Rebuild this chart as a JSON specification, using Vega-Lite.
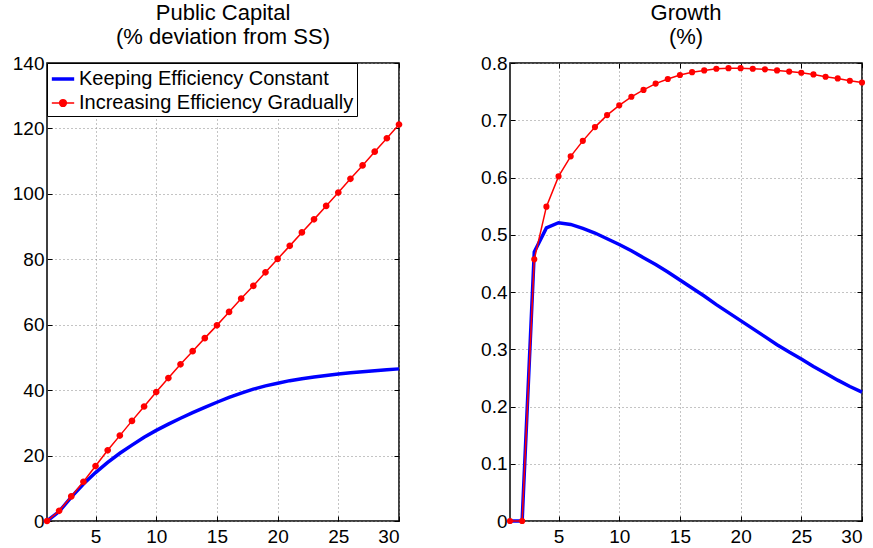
{
  "$schema": "https://vega.github.io/schema/vega-lite/v6.json",
  "padding": {"left": 11, "top": 1, "right": 0, "bottom": 0},
  "background": "white",
  "config": {
    "font": "Liberation Sans",
    "view": {"stroke": "black", "strokeWidth": 1.5},
    "axis": {
      "domain": false,
      "grid": true,
      "gridColor": "#888888",
      "gridDash": [1, 3],
      "gridWidth": 1,
      "tickColor": "black",
      "tickSize": -5,
      "tickWidth": 1,
      "labelFont": "Liberation Sans",
      "labelFontSize": 19,
      "labelColor": "black",
      "title": null
    },
    "axisX": {"labelPadding": 11},
    "axisY": {"labelPadding": 8},
    "title": {
      "font": "Liberation Sans",
      "fontSize": 22,
      "fontWeight": "normal",
      "color": "black",
      "anchor": "middle",
      "lineHeight": 24,
      "offset": 5
    }
  },
  "datasets": {
    "pubcap": [
      {"t": 1, "series": "Keeping Efficiency Constant", "v": 0},
      {"t": 2, "series": "Keeping Efficiency Constant", "v": 2.9},
      {"t": 3, "series": "Keeping Efficiency Constant", "v": 7.3},
      {"t": 4, "series": "Keeping Efficiency Constant", "v": 11.3},
      {"t": 5, "series": "Keeping Efficiency Constant", "v": 14.8},
      {"t": 6, "series": "Keeping Efficiency Constant", "v": 17.9},
      {"t": 7, "series": "Keeping Efficiency Constant", "v": 20.7},
      {"t": 8, "series": "Keeping Efficiency Constant", "v": 23.2},
      {"t": 9, "series": "Keeping Efficiency Constant", "v": 25.6},
      {"t": 10, "series": "Keeping Efficiency Constant", "v": 27.7},
      {"t": 11, "series": "Keeping Efficiency Constant", "v": 29.6},
      {"t": 12, "series": "Keeping Efficiency Constant", "v": 31.4},
      {"t": 13, "series": "Keeping Efficiency Constant", "v": 33.1},
      {"t": 14, "series": "Keeping Efficiency Constant", "v": 34.7},
      {"t": 15, "series": "Keeping Efficiency Constant", "v": 36.3},
      {"t": 16, "series": "Keeping Efficiency Constant", "v": 37.8},
      {"t": 17, "series": "Keeping Efficiency Constant", "v": 39.1},
      {"t": 18, "series": "Keeping Efficiency Constant", "v": 40.3},
      {"t": 19, "series": "Keeping Efficiency Constant", "v": 41.3},
      {"t": 20, "series": "Keeping Efficiency Constant", "v": 42.1},
      {"t": 21, "series": "Keeping Efficiency Constant", "v": 42.9},
      {"t": 22, "series": "Keeping Efficiency Constant", "v": 43.5},
      {"t": 23, "series": "Keeping Efficiency Constant", "v": 44.0},
      {"t": 24, "series": "Keeping Efficiency Constant", "v": 44.5},
      {"t": 25, "series": "Keeping Efficiency Constant", "v": 44.9},
      {"t": 26, "series": "Keeping Efficiency Constant", "v": 45.3},
      {"t": 27, "series": "Keeping Efficiency Constant", "v": 45.6},
      {"t": 28, "series": "Keeping Efficiency Constant", "v": 45.9},
      {"t": 29, "series": "Keeping Efficiency Constant", "v": 46.2},
      {"t": 30, "series": "Keeping Efficiency Constant", "v": 46.5},
      {"t": 1, "series": "Increasing Efficiency Gradually", "v": 0},
      {"t": 2, "series": "Increasing Efficiency Gradually", "v": 3.1},
      {"t": 3, "series": "Increasing Efficiency Gradually", "v": 7.5},
      {"t": 4, "series": "Increasing Efficiency Gradually", "v": 12.0},
      {"t": 5, "series": "Increasing Efficiency Gradually", "v": 16.8},
      {"t": 6, "series": "Increasing Efficiency Gradually", "v": 21.6},
      {"t": 7, "series": "Increasing Efficiency Gradually", "v": 26.1},
      {"t": 8, "series": "Increasing Efficiency Gradually", "v": 30.6},
      {"t": 9, "series": "Increasing Efficiency Gradually", "v": 35.0},
      {"t": 10, "series": "Increasing Efficiency Gradually", "v": 39.4},
      {"t": 11, "series": "Increasing Efficiency Gradually", "v": 43.7},
      {"t": 12, "series": "Increasing Efficiency Gradually", "v": 47.9},
      {"t": 13, "series": "Increasing Efficiency Gradually", "v": 51.9},
      {"t": 14, "series": "Increasing Efficiency Gradually", "v": 55.9},
      {"t": 15, "series": "Increasing Efficiency Gradually", "v": 59.8},
      {"t": 16, "series": "Increasing Efficiency Gradually", "v": 63.9},
      {"t": 17, "series": "Increasing Efficiency Gradually", "v": 68.0},
      {"t": 18, "series": "Increasing Efficiency Gradually", "v": 71.9},
      {"t": 19, "series": "Increasing Efficiency Gradually", "v": 76.0},
      {"t": 20, "series": "Increasing Efficiency Gradually", "v": 80.1},
      {"t": 21, "series": "Increasing Efficiency Gradually", "v": 84.1},
      {"t": 22, "series": "Increasing Efficiency Gradually", "v": 88.2},
      {"t": 23, "series": "Increasing Efficiency Gradually", "v": 92.2},
      {"t": 24, "series": "Increasing Efficiency Gradually", "v": 96.3},
      {"t": 25, "series": "Increasing Efficiency Gradually", "v": 100.4},
      {"t": 26, "series": "Increasing Efficiency Gradually", "v": 104.6},
      {"t": 27, "series": "Increasing Efficiency Gradually", "v": 108.7},
      {"t": 28, "series": "Increasing Efficiency Gradually", "v": 112.9},
      {"t": 29, "series": "Increasing Efficiency Gradually", "v": 117.0},
      {"t": 30, "series": "Increasing Efficiency Gradually", "v": 121.2}
    ],
    "growth": [
      {"t": 1, "series": "Keeping Efficiency Constant", "v": 0},
      {"t": 2, "series": "Keeping Efficiency Constant", "v": 0},
      {"t": 3, "series": "Keeping Efficiency Constant", "v": 0.47},
      {"t": 4, "series": "Keeping Efficiency Constant", "v": 0.512},
      {"t": 5, "series": "Keeping Efficiency Constant", "v": 0.521},
      {"t": 6, "series": "Keeping Efficiency Constant", "v": 0.518},
      {"t": 7, "series": "Keeping Efficiency Constant", "v": 0.511},
      {"t": 8, "series": "Keeping Efficiency Constant", "v": 0.503},
      {"t": 9, "series": "Keeping Efficiency Constant", "v": 0.493},
      {"t": 10, "series": "Keeping Efficiency Constant", "v": 0.483},
      {"t": 11, "series": "Keeping Efficiency Constant", "v": 0.472},
      {"t": 12, "series": "Keeping Efficiency Constant", "v": 0.460},
      {"t": 13, "series": "Keeping Efficiency Constant", "v": 0.448},
      {"t": 14, "series": "Keeping Efficiency Constant", "v": 0.435},
      {"t": 15, "series": "Keeping Efficiency Constant", "v": 0.421},
      {"t": 16, "series": "Keeping Efficiency Constant", "v": 0.407},
      {"t": 17, "series": "Keeping Efficiency Constant", "v": 0.393},
      {"t": 18, "series": "Keeping Efficiency Constant", "v": 0.378},
      {"t": 19, "series": "Keeping Efficiency Constant", "v": 0.364},
      {"t": 20, "series": "Keeping Efficiency Constant", "v": 0.350},
      {"t": 21, "series": "Keeping Efficiency Constant", "v": 0.336},
      {"t": 22, "series": "Keeping Efficiency Constant", "v": 0.322},
      {"t": 23, "series": "Keeping Efficiency Constant", "v": 0.308},
      {"t": 24, "series": "Keeping Efficiency Constant", "v": 0.295},
      {"t": 25, "series": "Keeping Efficiency Constant", "v": 0.283},
      {"t": 26, "series": "Keeping Efficiency Constant", "v": 0.270},
      {"t": 27, "series": "Keeping Efficiency Constant", "v": 0.258},
      {"t": 28, "series": "Keeping Efficiency Constant", "v": 0.246},
      {"t": 29, "series": "Keeping Efficiency Constant", "v": 0.235},
      {"t": 30, "series": "Keeping Efficiency Constant", "v": 0.225},
      {"t": 1, "series": "Increasing Efficiency Gradually", "v": 0},
      {"t": 2, "series": "Increasing Efficiency Gradually", "v": 0},
      {"t": 3, "series": "Increasing Efficiency Gradually", "v": 0.457},
      {"t": 4, "series": "Increasing Efficiency Gradually", "v": 0.549},
      {"t": 5, "series": "Increasing Efficiency Gradually", "v": 0.602},
      {"t": 6, "series": "Increasing Efficiency Gradually", "v": 0.637},
      {"t": 7, "series": "Increasing Efficiency Gradually", "v": 0.664},
      {"t": 8, "series": "Increasing Efficiency Gradually", "v": 0.688},
      {"t": 9, "series": "Increasing Efficiency Gradually", "v": 0.709},
      {"t": 10, "series": "Increasing Efficiency Gradually", "v": 0.726},
      {"t": 11, "series": "Increasing Efficiency Gradually", "v": 0.741},
      {"t": 12, "series": "Increasing Efficiency Gradually", "v": 0.753},
      {"t": 13, "series": "Increasing Efficiency Gradually", "v": 0.764},
      {"t": 14, "series": "Increasing Efficiency Gradually", "v": 0.772},
      {"t": 15, "series": "Increasing Efficiency Gradually", "v": 0.779},
      {"t": 16, "series": "Increasing Efficiency Gradually", "v": 0.784},
      {"t": 17, "series": "Increasing Efficiency Gradually", "v": 0.787},
      {"t": 18, "series": "Increasing Efficiency Gradually", "v": 0.790},
      {"t": 19, "series": "Increasing Efficiency Gradually", "v": 0.791},
      {"t": 20, "series": "Increasing Efficiency Gradually", "v": 0.791},
      {"t": 21, "series": "Increasing Efficiency Gradually", "v": 0.790},
      {"t": 22, "series": "Increasing Efficiency Gradually", "v": 0.789},
      {"t": 23, "series": "Increasing Efficiency Gradually", "v": 0.787},
      {"t": 24, "series": "Increasing Efficiency Gradually", "v": 0.785},
      {"t": 25, "series": "Increasing Efficiency Gradually", "v": 0.783},
      {"t": 26, "series": "Increasing Efficiency Gradually", "v": 0.780},
      {"t": 27, "series": "Increasing Efficiency Gradually", "v": 0.776},
      {"t": 28, "series": "Increasing Efficiency Gradually", "v": 0.773},
      {"t": 29, "series": "Increasing Efficiency Gradually", "v": 0.769},
      {"t": 30, "series": "Increasing Efficiency Gradually", "v": 0.766}
    ]
  },
  "spacing": 68,
  "resolve": {
    "scale": {"x": "independent", "y": "independent", "stroke": "independent", "strokeWidth": "independent", "fill": "independent", "shape": "independent"},
    "legend": {"stroke": "independent", "strokeWidth": "independent", "fill": "independent", "shape": "independent"}
  },
  "hconcat": [
    {
      "width": 352,
      "height": 458,
      "title": {"text": ["Public Capital", "(% deviation from SS)"]},
      "data": {"name": "pubcap"},
      "resolve": {"axis": {"x": "independent", "y": "independent"}},
      "layer": [
        {
          "transform": [{"filter": "datum.series === 'Keeping Efficiency Constant'"}],
          "mark": {"type": "line"},
          "encoding": {
            "x": {"field": "t", "type": "quantitative", "scale": {"domain": [1, 30], "nice": false, "zero": false}, "axis": {"orient": "bottom", "values": [5, 10, 15, 20, 25, 30]}},
            "y": {"field": "v", "type": "quantitative", "scale": {"domain": [0, 140], "nice": false}, "axis": {"orient": "left", "values": [0, 20, 40, 60, 80, 100, 120, 140]}},
            "stroke": {"field": "series", "type": "nominal", "scale": {"domain": ["Keeping Efficiency Constant", "Increasing Efficiency Gradually"], "range": ["#0000ff", "#ff0000"]},
              "legend": {"orient": "top-left", "offset": 0, "title": null, "strokeColor": "black", "fillColor": "white", "padding": 3, "rowPadding": 2, "labelFont": "Liberation Sans", "labelFontSize": 20, "labelColor": "black", "labelLimit": 400, "labelOffset": 3, "symbolSize": 500}},
            "strokeWidth": {"field": "series", "type": "nominal", "scale": {"domain": ["Keeping Efficiency Constant", "Increasing Efficiency Gradually"], "range": [3.5, 1.5]}}
          }
        },
        {
          "transform": [{"filter": "datum.series === 'Increasing Efficiency Gradually'"}],
          "mark": {"type": "line"},
          "encoding": {
            "x": {"field": "t", "type": "quantitative", "axis": null},
            "y": {"field": "v", "type": "quantitative", "axis": null},
            "stroke": {"field": "series", "type": "nominal"},
            "strokeWidth": {"field": "series", "type": "nominal"}
          }
        },
        {
          "transform": [{"filter": "datum.series === 'Increasing Efficiency Gradually'"}],
          "mark": {"type": "point", "filled": true, "size": 500, "opacity": 1},
          "encoding": {
            "x": {"field": "t", "type": "quantitative", "axis": null},
            "y": {"field": "v", "type": "quantitative", "axis": null},
            "fill": {"field": "series", "type": "nominal", "scale": {"domain": ["Keeping Efficiency Constant", "Increasing Efficiency Gradually"], "range": ["#0000ff", "#ff0000"]}},
            "shape": {"field": "series", "type": "nominal", "scale": {"domain": ["Keeping Efficiency Constant", "Increasing Efficiency Gradually"], "range": ["M-1,0L1,0", "M-1,0L1,0M0.3,0A0.3,0.3,0,1,1,-0.3,0A0.3,0.3,0,1,1,0.3,0Z"]}}
          }
        },
        {
          "mark": {"type": "point", "opacity": 0},
          "encoding": {
            "x": {"field": "t", "type": "quantitative", "axis": {"orient": "top", "values": [5, 10, 15, 20, 25, 30], "labels": false, "grid": false}},
            "y": {"field": "v", "type": "quantitative", "axis": {"orient": "right", "values": [0, 20, 40, 60, 80, 100, 120, 140], "labels": false, "grid": false}}
          }
        }
      ]
    },
    {
      "width": 352,
      "height": 458,
      "title": {"text": ["Growth", "(%)"]},
      "data": {"name": "growth"},
      "resolve": {"axis": {"x": "independent", "y": "independent"}},
      "layer": [
        {
          "transform": [{"filter": "datum.series === 'Keeping Efficiency Constant'"}],
          "mark": {"type": "line", "color": "#0000ff", "strokeWidth": 3.5},
          "encoding": {
            "x": {"field": "t", "type": "quantitative", "scale": {"domain": [1, 30], "nice": false, "zero": false}, "axis": {"orient": "bottom", "values": [5, 10, 15, 20, 25, 30]}},
            "y": {"field": "v", "type": "quantitative", "scale": {"domain": [0, 0.8], "nice": false}, "axis": {"orient": "left", "values": [0, 0.1, 0.2, 0.3, 0.4, 0.5, 0.6, 0.7, 0.8], "format": "~g"}}
          }
        },
        {
          "transform": [{"filter": "datum.series === 'Increasing Efficiency Gradually'"}],
          "mark": {"type": "line", "color": "#ff0000", "strokeWidth": 1.5},
          "encoding": {
            "x": {"field": "t", "type": "quantitative", "axis": null},
            "y": {"field": "v", "type": "quantitative", "axis": null}
          }
        },
        {
          "transform": [{"filter": "datum.series === 'Increasing Efficiency Gradually'"}],
          "mark": {"type": "circle", "color": "#ff0000", "size": 38, "opacity": 1},
          "encoding": {
            "x": {"field": "t", "type": "quantitative", "axis": null},
            "y": {"field": "v", "type": "quantitative", "axis": null}
          }
        },
        {
          "mark": {"type": "point", "opacity": 0},
          "encoding": {
            "x": {"field": "t", "type": "quantitative", "axis": {"orient": "top", "values": [5, 10, 15, 20, 25, 30], "labels": false, "grid": false}},
            "y": {"field": "v", "type": "quantitative", "axis": {"orient": "right", "values": [0, 0.1, 0.2, 0.3, 0.4, 0.5, 0.6, 0.7, 0.8], "labels": false, "grid": false}}
          }
        }
      ]
    }
  ]
}
